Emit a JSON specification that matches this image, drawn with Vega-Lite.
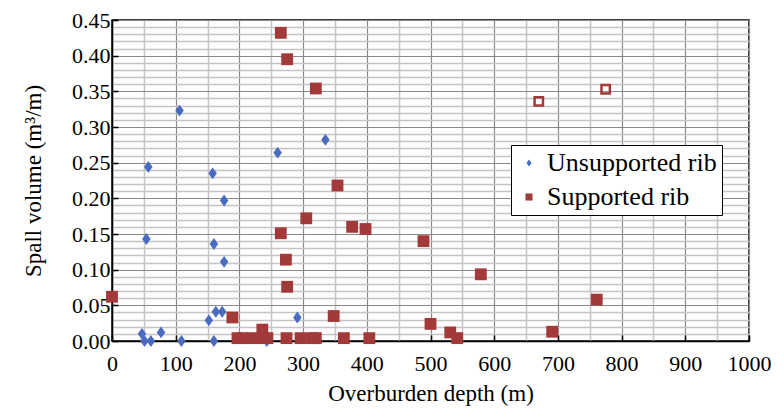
{
  "$schema": "https://vega.github.io/schema/vega-lite/v6.json",
  "width": 637,
  "height": 321,
  "autosize": {"type": "none"},
  "padding": {"left": 112, "top": 20, "right": 35, "bottom": 77},
  "background": "white",
  "config": {
    "view": {"stroke": "black", "strokeWidth": 1.5},
    "font": "Liberation Serif",
    "style": {"guide-label": {"font": "Liberation Serif", "fill": "black"}, "guide-title": {"font": "Liberation Serif", "fill": "black"}},
    "axis": {"labelFont": "Liberation Serif", "titleFont": "Liberation Serif", "labelColor": "black", "titleColor": "black", "titleFontWeight": "normal"},
    "legend": {"labelFont": "Liberation Serif"}
  },
  "data": {
    "values": [
      {"depth": 47, "volume": 0.010, "rib": "Unsupported rib", "excluded": false},
      {"depth": 51, "volume": 0.0, "rib": "Unsupported rib", "excluded": false},
      {"depth": 61, "volume": 0.0, "rib": "Unsupported rib", "excluded": false},
      {"depth": 77, "volume": 0.012, "rib": "Unsupported rib", "excluded": false},
      {"depth": 109, "volume": 0.0, "rib": "Unsupported rib", "excluded": false},
      {"depth": 106, "volume": 0.323, "rib": "Unsupported rib", "excluded": false},
      {"depth": 57, "volume": 0.244, "rib": "Unsupported rib", "excluded": false},
      {"depth": 54, "volume": 0.143, "rib": "Unsupported rib", "excluded": false},
      {"depth": 152, "volume": 0.029, "rib": "Unsupported rib", "excluded": false},
      {"depth": 160, "volume": 0.0, "rib": "Unsupported rib", "excluded": false},
      {"depth": 163, "volume": 0.041, "rib": "Unsupported rib", "excluded": false},
      {"depth": 173, "volume": 0.041, "rib": "Unsupported rib", "excluded": false},
      {"depth": 158, "volume": 0.235, "rib": "Unsupported rib", "excluded": false},
      {"depth": 176, "volume": 0.197, "rib": "Unsupported rib", "excluded": false},
      {"depth": 160, "volume": 0.136, "rib": "Unsupported rib", "excluded": false},
      {"depth": 176, "volume": 0.111, "rib": "Unsupported rib", "excluded": false},
      {"depth": 260, "volume": 0.264, "rib": "Unsupported rib", "excluded": false},
      {"depth": 335, "volume": 0.282, "rib": "Unsupported rib", "excluded": false},
      {"depth": 291, "volume": 0.033, "rib": "Unsupported rib", "excluded": false},
      {"depth": 243, "volume": 0.0, "rib": "Unsupported rib", "excluded": false},
      {"depth": 0, "volume": 0.062, "rib": "Supported rib", "excluded": false},
      {"depth": 189, "volume": 0.033, "rib": "Supported rib", "excluded": false},
      {"depth": 197, "volume": 0.004, "rib": "Supported rib", "excluded": false},
      {"depth": 205, "volume": 0.004, "rib": "Supported rib", "excluded": false},
      {"depth": 220, "volume": 0.004, "rib": "Supported rib", "excluded": false},
      {"depth": 236, "volume": 0.016, "rib": "Supported rib", "excluded": false},
      {"depth": 238, "volume": 0.004, "rib": "Supported rib", "excluded": false},
      {"depth": 244, "volume": 0.004, "rib": "Supported rib", "excluded": false},
      {"depth": 265, "volume": 0.151, "rib": "Supported rib", "excluded": false},
      {"depth": 273, "volume": 0.114, "rib": "Supported rib", "excluded": false},
      {"depth": 275, "volume": 0.076, "rib": "Supported rib", "excluded": false},
      {"depth": 274, "volume": 0.004, "rib": "Supported rib", "excluded": false},
      {"depth": 296, "volume": 0.004, "rib": "Supported rib", "excluded": false},
      {"depth": 305, "volume": 0.172, "rib": "Supported rib", "excluded": false},
      {"depth": 314, "volume": 0.004, "rib": "Supported rib", "excluded": false},
      {"depth": 320, "volume": 0.004, "rib": "Supported rib", "excluded": false},
      {"depth": 348, "volume": 0.035, "rib": "Supported rib", "excluded": false},
      {"depth": 354, "volume": 0.218, "rib": "Supported rib", "excluded": false},
      {"depth": 364, "volume": 0.004, "rib": "Supported rib", "excluded": false},
      {"depth": 377, "volume": 0.160, "rib": "Supported rib", "excluded": false},
      {"depth": 398, "volume": 0.157, "rib": "Supported rib", "excluded": false},
      {"depth": 404, "volume": 0.004, "rib": "Supported rib", "excluded": false},
      {"depth": 265, "volume": 0.432, "rib": "Supported rib", "excluded": false},
      {"depth": 275, "volume": 0.395, "rib": "Supported rib", "excluded": false},
      {"depth": 320, "volume": 0.354, "rib": "Supported rib", "excluded": false},
      {"depth": 489, "volume": 0.140, "rib": "Supported rib", "excluded": false},
      {"depth": 579, "volume": 0.0935, "rib": "Supported rib", "excluded": false},
      {"depth": 761, "volume": 0.058, "rib": "Supported rib", "excluded": false},
      {"depth": 500, "volume": 0.024, "rib": "Supported rib", "excluded": false},
      {"depth": 531, "volume": 0.012, "rib": "Supported rib", "excluded": false},
      {"depth": 542, "volume": 0.004, "rib": "Supported rib", "excluded": false},
      {"depth": 691, "volume": 0.013, "rib": "Supported rib", "excluded": false},
      {"depth": 670, "volume": 0.336, "rib": "Supported rib", "excluded": true},
      {"depth": 775, "volume": 0.353, "rib": "Supported rib", "excluded": true}
    ]
  },
  "layer": [
    {
      "transform": [{"filter": "datum.excluded == false"}],
      "mark": {"type": "point", "filled": true, "opacity": 1},
      "encoding": {
        "x": {
          "field": "depth", "type": "quantitative",
          "scale": {"domain": [0, 1000], "nice": false},
          "axis": {"orient": "bottom", "values": [50, 150, 250, 350, 450, 550, 650, 750, 850, 950], "grid": true, "gridColor": "#c4c4c4", "gridWidth": 1.5, "labels": false, "ticks": false, "domain": false, "title": null}
        },
        "y": {
          "field": "volume", "type": "quantitative",
          "scale": {"domain": [0, 0.45], "nice": false},
          "axis": {"orient": "left", "values": [0.01,0.02,0.03,0.04,0.06,0.07,0.08,0.09,0.11,0.12,0.13,0.14,0.16,0.17,0.18,0.19,0.21,0.22,0.23,0.24,0.26,0.27,0.28,0.29,0.31,0.32,0.33,0.34,0.36,0.37,0.38,0.39,0.41,0.42,0.43,0.44], "grid": true, "gridColor": "#c4c4c4", "gridWidth": 1.5, "labels": false, "ticks": false, "domain": false, "title": null}
        },
        "shape": {
          "field": "rib", "type": "nominal",
          "scale": {"domain": ["Unsupported rib", "Supported rib"], "range": ["M0,-1L0.72,0L0,1L-0.72,0Z", "square"]},
          "legend": {
            "title": null, "orient": "none", "legendX": 399, "legendY": 125,
            "strokeColor": "black", "fillColor": "white", "padding": 5,
            "labelFont": "Liberation Serif", "labelFontSize": 26, "labelColor": "black", "symbolSize": 50, "symbolOffset": 0, "labelOffset": 5,
            "rowPadding": 8, "labelLimit": 300, "labelExpr": "datum.label + '\u00a0\u00a0\u00a0'"
          }
        },
        "color": {
          "field": "rib", "type": "nominal",
          "scale": {"domain": ["Unsupported rib", "Supported rib"], "range": ["#4a6cc0", "#a33a3a"]},
          "legend": {
            "title": null, "orient": "none", "legendX": 399, "legendY": 125,
            "strokeColor": "black", "fillColor": "white", "padding": 5,
            "labelFont": "Liberation Serif", "labelFontSize": 26, "labelColor": "black", "symbolSize": 50, "symbolOffset": 0, "labelOffset": 5,
            "rowPadding": 8, "labelLimit": 300, "labelExpr": "datum.label + '\u00a0\u00a0\u00a0'"
          }
        },
        "size": {"value": 140}
      }
    },
    {
      "transform": [{"filter": "datum.excluded == true"}],
      "mark": {"type": "point", "shape": "square", "filled": false, "color": "#a33a3a", "strokeWidth": 2.5, "size": 70, "opacity": 1},
      "encoding": {
        "x": {
          "field": "depth", "type": "quantitative",
          "scale": {"domain": [0, 1000], "nice": false},
          "axis": {"orient": "bottom", "values": [0,100,200,300,400,500,600,700,800,900,1000], "format": "d", "labelOverlap": false, "labelFlush": false, "grid": true, "gridColor": "#8a8a8a", "gridWidth": 1.2, "labelFont": "Liberation Serif", "labelFontSize": 22, "labelPadding": 18, "tickSize": -6, "tickColor": "black", "tickWidth": 1.5, "domainColor": "black", "domainWidth": 1.5, "title": "Overburden depth (m)", "titleFont": "Liberation Serif", "titleFontSize": 23, "titlePadding": 8}
        },
        "y": {
          "field": "volume", "type": "quantitative",
          "scale": {"domain": [0, 0.45], "nice": false},
          "axis": {"orient": "left", "values": [0,0.05,0.1,0.15,0.2,0.25,0.3,0.35,0.4,0.45], "format": ".2f", "labelOverlap": false, "labelFlush": false, "grid": true, "gridColor": "#8a8a8a", "gridWidth": 1.2, "labelFont": "Liberation Serif", "labelFontSize": 22, "labelPadding": 8, "tickSize": -6, "tickColor": "black", "tickWidth": 1.5, "domainColor": "black", "domainWidth": 1.5, "title": "Spall volume (m³/m)", "titleFont": "Liberation Serif", "titleFontSize": 23, "titlePadding": 26}
        }
      }
    }
  ],
  "resolve": {"axis": {"x": "independent", "y": "independent"}}
}
